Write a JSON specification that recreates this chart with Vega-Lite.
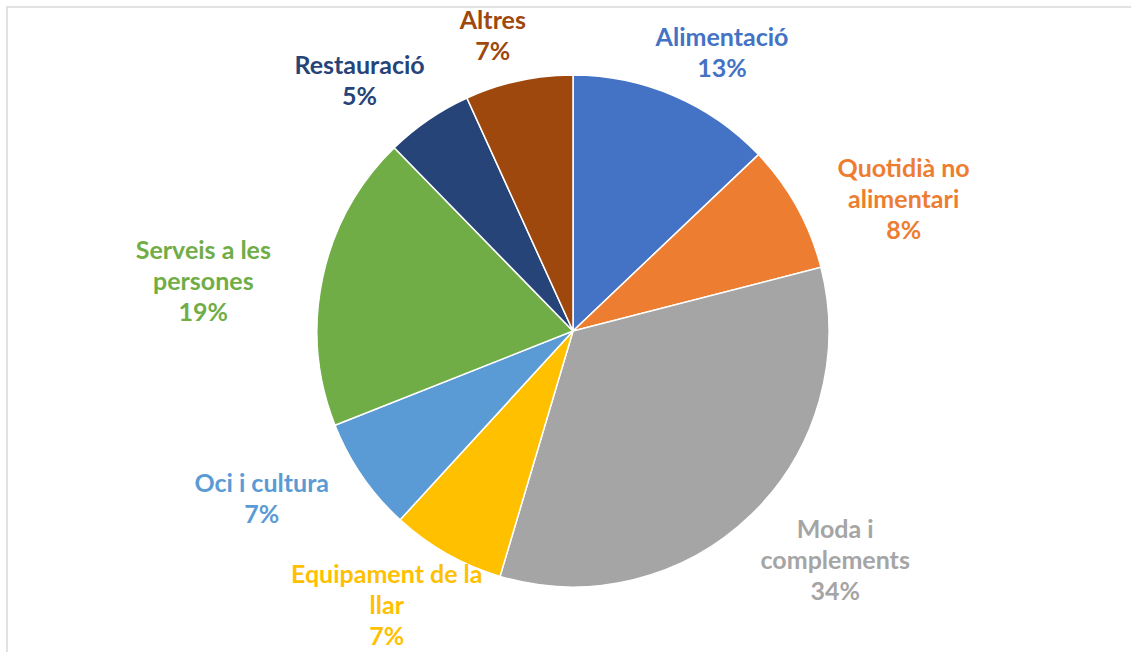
{
  "$schema": "https://vega.github.io/schema/vega-lite/v6.json",
  "autosize": "none",
  "width": 1132,
  "height": 648,
  "padding": {"left": 7, "top": 7, "right": -8, "bottom": -3},
  "background": "white",
  "config": {"view": {"stroke": null}},
  "layer": [
    {
      "data": {"values": [{"frame": 1}]},
      "mark": {"type": "rect", "filled": false, "stroke": "#D9D9D9", "strokeWidth": 1.5},
      "encoding": {}
    },
    {
      "data": {"name": "shares"},
      "mark": {"type": "arc", "outerRadius": 256, "stroke": "white", "strokeWidth": 1.5},
      "encoding": {
        "theta": {"field": "v", "type": "quantitative", "stack": true},
        "order": {"field": "k", "type": "quantitative"},
        "color": {"field": "cat", "type": "nominal", "legend": null,
          "scale": {
            "domain": ["Alimentació", "Quotidià no alimentari", "Moda i complements", "Equipament de la llar", "Oci i cultura", "Serveis a les persones", "Restauració", "Altres"],
            "range": ["#4472C4", "#ED7D31", "#A5A5A5", "#FFC000", "#5B9BD5", "#70AD47", "#264478", "#9E480E"]
          }
        }
      }
    },
    {
      "data": {"name": "shares"},
      "mark": {
        "type": "text",
        "font": "Lato",
        "fontWeight": "bold",
        "fontSize": 25,
        "lineHeight": 31,
        "lineBreak": "\n",
        "align": "center",
        "baseline": "middle",
        "radius": 300,
        "dy": -17,
        "dx": {"expr": "78*sin(scale('theta', 0.5*datum.v_start + 0.5*datum.v_end))"}
      },
      "encoding": {
        "theta": {"field": "v", "type": "quantitative", "stack": true},
        "order": {"field": "k", "type": "quantitative"},
        "color": {"field": "cat", "type": "nominal", "legend": null},
        "text": {"field": "label", "type": "nominal"}
      }
    }
  ],
  "datasets": {
    "shares": [
      {"cat": "Alimentació", "v": 12.9, "label": "Alimentació\n13%", "k": 1},
      {"cat": "Quotidià no alimentari", "v": 8.1, "label": "Quotidià no\nalimentari\n8%", "k": 2},
      {"cat": "Moda i complements", "v": 33.6, "label": "Moda i\ncomplements\n34%", "k": 3},
      {"cat": "Equipament de la llar", "v": 7.2, "label": "Equipament de la\nllar\n7%", "k": 4},
      {"cat": "Oci i cultura", "v": 7.2, "label": "Oci i cultura\n7%", "k": 5},
      {"cat": "Serveis a les persones", "v": 18.7, "label": "Serveis a les\npersones\n19%", "k": 6},
      {"cat": "Restauració", "v": 5.5, "label": "Restauració\n5%", "k": 7},
      {"cat": "Altres", "v": 6.8, "label": "Altres\n7%", "k": 8}
    ]
  }
}
